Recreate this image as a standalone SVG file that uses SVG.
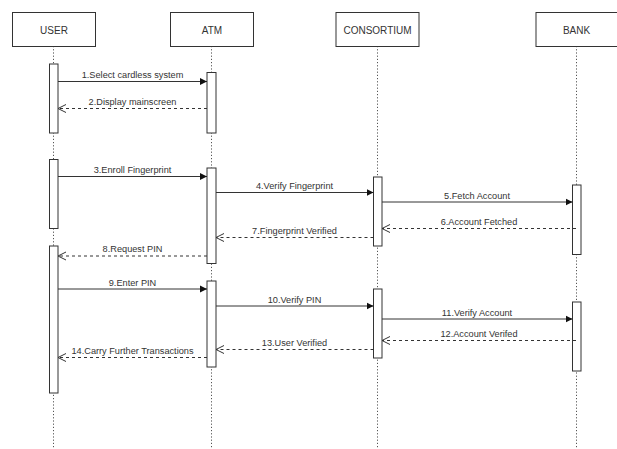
<svg xmlns="http://www.w3.org/2000/svg" width="617" height="449" viewBox="0 0 617 449">
<style>
.head{fill:#fff;stroke:#333;stroke-width:1}
.htxt{font-family:"Liberation Sans",Arial,sans-serif;font-size:10px;fill:#333;text-anchor:middle}
.life{stroke:#555;stroke-width:1;stroke-dasharray:1.2,2}
.act{fill:#fff;stroke:#333;stroke-width:1}
.msg{stroke:#333;stroke-width:1;fill:none}
.ret{stroke:#333;stroke-width:1;fill:none;stroke-dasharray:3,3}
.lbl{font-family:"Liberation Sans",Arial,sans-serif;font-size:9.2px;fill:#333;text-anchor:middle}
</style>
<defs>
<marker id="solid" markerWidth="8" markerHeight="8" refX="7" refY="4" orient="auto" markerUnits="userSpaceOnUse">
<path d="M0,0.5 L7,4 L0,7.5 Z" fill="#111"/>
</marker>
<marker id="open" markerWidth="10" markerHeight="10" refX="8" refY="5" orient="auto" markerUnits="userSpaceOnUse">
<path d="M0,1 L8,5 L0,9" fill="none" stroke="#333" stroke-width="1"/>
</marker>
</defs>
<rect width="617" height="449" fill="#fff"/>
<g id="lifelines">
<line class="life" x1="53.5" y1="46" x2="53.5" y2="449"/>
<line class="life" x1="211.5" y1="46" x2="211.5" y2="449"/>
<line class="life" x1="377.5" y1="46" x2="377.5" y2="449"/>
<line class="life" x1="576.5" y1="46" x2="576.5" y2="449"/>
</g>
<g id="user">
<rect class="head" x="12.5" y="12.5" width="83" height="34"/>
<text class="htxt" x="54" y="33.5">USER</text>
<rect class="act" x="49.5" y="64" width="8.5" height="69"/>
<rect class="act" x="49.5" y="159.5" width="8.5" height="69"/>
<rect class="act" x="49.5" y="246" width="8.5" height="147"/>
</g>
<g id="atm">
<rect class="head" x="170.5" y="12.5" width="83" height="34"/>
<text class="htxt" x="212" y="33.5">ATM</text>
<rect class="act" x="207" y="72.5" width="9" height="60.5"/>
<rect class="act" x="207" y="168" width="9" height="95.5"/>
<rect class="act" x="207" y="281" width="9" height="86"/>
</g>
<g id="consortium">
<rect class="head" x="336" y="12.5" width="83" height="34"/>
<text class="htxt" x="377.5" y="33.5">CONSORTIUM</text>
<rect class="act" x="373.5" y="177" width="8.5" height="69"/>
<rect class="act" x="373.5" y="289" width="8.5" height="69"/>
</g>
<g id="bank">
<rect class="head" x="536" y="12.5" width="83" height="34"/>
<text class="htxt" x="576.5" y="33.5">BANK</text>
<rect class="act" x="572.5" y="185" width="8.5" height="69.5"/>
<rect class="act" x="572.5" y="302" width="8.5" height="69"/>
</g>
<g id="connectors">
<line class="msg" x1="58" y1="81.5" x2="207" y2="81.5" marker-end="url(#solid)"/>
<text class="lbl" x="132.5" y="78">1.Select cardless system</text>
<line class="ret" x1="207" y1="108.5" x2="58" y2="108.5" marker-end="url(#open)"/>
<text class="lbl" x="132.5" y="105">2.Display mainscreen</text>
<line class="msg" x1="58" y1="176.5" x2="207" y2="176.5" marker-end="url(#solid)"/>
<text class="lbl" x="132.5" y="172.5">3.Enroll Fingerprint</text>
<line class="msg" x1="216" y1="192.5" x2="373.5" y2="192.5" marker-end="url(#solid)"/>
<text class="lbl" x="294.5" y="189">4.Verify Fingerprint</text>
<line class="msg" x1="382" y1="202" x2="572.5" y2="202" marker-end="url(#solid)"/>
<text class="lbl" x="477" y="198.5">5.Fetch Account</text>
<line class="ret" x1="576" y1="228.5" x2="382" y2="228.5" marker-end="url(#open)"/>
<text class="lbl" x="479" y="224.5">6.Account Fetched</text>
<line class="ret" x1="373.5" y1="237.5" x2="216" y2="237.5" marker-end="url(#open)"/>
<text class="lbl" x="294.5" y="233.5">7.Fingerprint Verified</text>
<line class="ret" x1="207" y1="256" x2="58" y2="256" marker-end="url(#open)"/>
<text class="lbl" x="132.5" y="252">8.Request PIN</text>
<line class="msg" x1="58" y1="289" x2="207" y2="289" marker-end="url(#solid)"/>
<text class="lbl" x="132.5" y="285.5">9.Enter PIN</text>
<line class="msg" x1="216" y1="306" x2="373.5" y2="306" marker-end="url(#solid)"/>
<text class="lbl" x="294.5" y="302.5">10.Verify PIN</text>
<line class="msg" x1="382" y1="319" x2="572.5" y2="319" marker-end="url(#solid)"/>
<text class="lbl" x="477" y="315.5">11.Verify Account</text>
<line class="ret" x1="576" y1="340.5" x2="382" y2="340.5" marker-end="url(#open)"/>
<text class="lbl" x="479" y="336.5">12.Account Verifed</text>
<line class="ret" x1="373.5" y1="349.5" x2="216" y2="349.5" marker-end="url(#open)"/>
<text class="lbl" x="294.5" y="345.5">13.User Verified</text>
<line class="ret" x1="207" y1="357.5" x2="58" y2="357.5" marker-end="url(#open)"/>
<text class="lbl" x="132.5" y="354">14.Carry Further Transactions</text>
</g>
</svg>
